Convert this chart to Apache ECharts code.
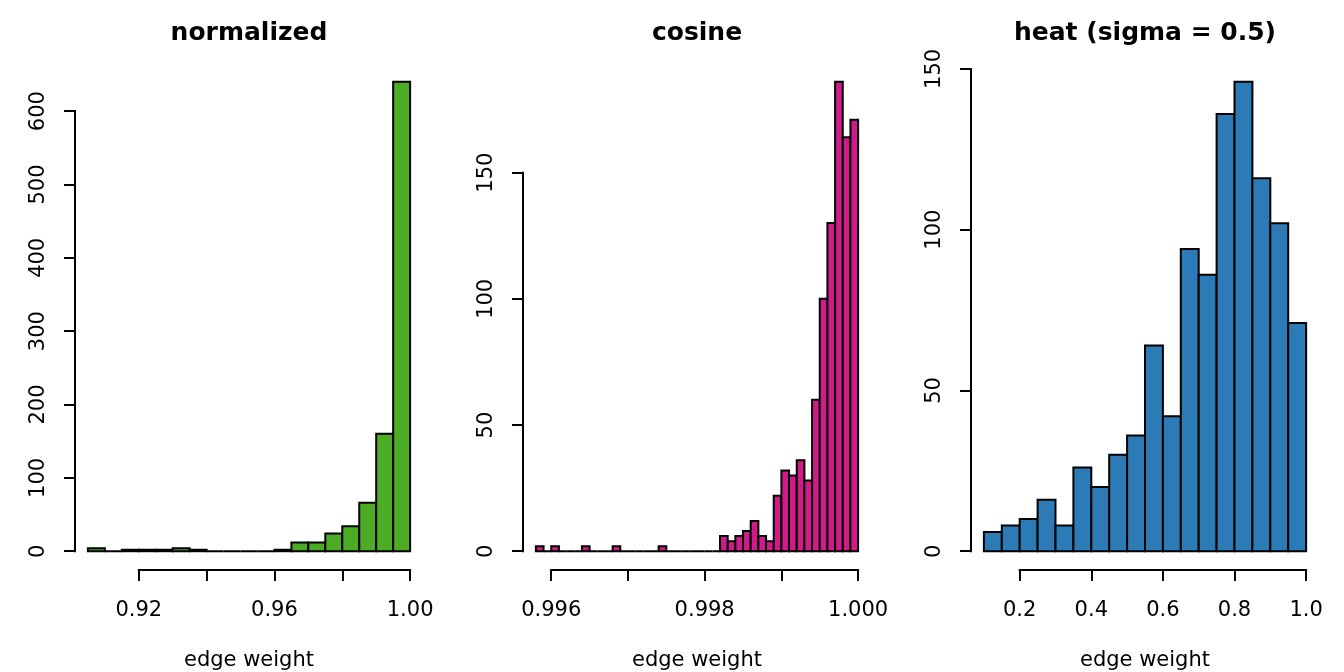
<!DOCTYPE html>
<html>
<head>
<meta charset="utf-8">
<script src="https://cdn.jsdelivr.net/npm/echarts@6/dist/echarts.min.js"></script>
<style>
html,body{margin:0;padding:0;background:#fff;}
#chart{width:1344px;height:672px;}
</style>
</head>
<body>
<div id="chart"></div>
<script>
// ---- data ----
const titles = ['normalized', 'cosine', 'heat (sigma = 0.5)'];
const xLabelName = 'edge weight';

const normBreaks = [0.905,0.910,0.915,0.920,0.925,0.930,0.935,0.940,0.945,0.950,0.955,0.960,0.965,0.970,0.975,0.980,0.985,0.990,0.995,1.000];
const normCounts = [4,0,2,2,2,4,2,0,0,0,0,2,12,12,24,34,66,160,640];

const cosBreaks = [0.9958,0.9959,0.9960,0.9961,0.9962,0.9963,0.9964,0.9965,0.9966,0.9967,0.9968,0.9969,0.9970,0.9971,0.9972,0.9973,0.9974,0.9975,0.9976,0.9977,0.9978,0.9979,0.9980,0.9981,0.9982,0.9983,0.9984,0.9985,0.9986,0.9987,0.9988,0.9989,0.9990,0.9991,0.9992,0.9993,0.9994,0.9995,0.9996,0.9997,0.9998,0.9999,1.0000];
const cosCounts = [2,0,2,0,0,0,2,0,0,0,2,0,0,0,0,0,2,0,0,0,0,0,0,0,6,4,6,8,12,6,4,22,32,30,36,28,60,100,130,186,164,171];

const heatBreaks = [0.10,0.15,0.20,0.25,0.30,0.35,0.40,0.45,0.50,0.55,0.60,0.65,0.70,0.75,0.80,0.85,0.90,0.95,1.00];
const heatCounts = [6,8,10,16,8,26,20,30,36,64,42,94,86,136,146,116,102,71];

const normXTicks = [0.92,0.94,0.96,0.98,1.00];
const normXLabels = [0.92,0.96,1.00];
const normYTicks = [0,100,200,300,400,500,600];

const cosXTicks = [0.996,0.997,0.998,0.999,1.000];
const cosXLabels = [0.996,0.998,1.000];
const cosYTicks = [0,50,100,150];

const heatXTicks = [0.2,0.4,0.6,0.8,1.0];
const heatXLabels = [0.2,0.4,0.6,0.8,1.0];
const heatYTicks = [0,50,100,150];

const colors = ['#4DAC26', '#D01C8B', '#2C7BB6'];
const decimals = [2, 3, 1];

// ---- build ----
const panels = [
  {breaks: normBreaks, counts: normCounts, xt: normXTicks, xl: normXLabels, yt: normYTicks},
  {breaks: cosBreaks, counts: cosCounts, xt: cosXTicks, xl: cosXLabels, yt: cosYTicks},
  {breaks: heatBreaks, counts: heatCounts, xt: heatXTicks, xl: heatXLabels, yt: heatYTicks}
];

const FONT = 'DejaVu Sans';
const PW = 448, GL = 75, GT = 63, GW = 348, GH = 507;

const grid = [], xAxis = [], yAxis = [], series = [], title = [];

panels.forEach((p, i) => {
  const b0 = p.breaks[0], b1 = p.breaks[p.breaks.length - 1];
  const xr = b1 - b0;
  const xmin = b0 - 0.04 * xr, xmax = b1 + 0.04 * xr;
  const cmax = Math.max(...p.counts);
  const ymin = -0.04 * cmax, ymax = 1.04 * cmax;
  const dec = decimals[i];

  grid.push({left: GL + i * PW, top: GT, width: GW, height: GH, containLabel: false, outerBoundsMode: 'none'});
  title.push({
    text: titles[i],
    left: GL + i * PW + GW / 2 - 5,
    top: 16,
    textAlign: 'center',
    textStyle: {fontFamily: FONT, fontSize: 25, fontWeight: 'bold', color: '#000'}
  });
  xAxis.push({
    type: 'value', gridIndex: i, min: xmin, max: xmax,
    axisLine: {show: false, onZero: false},
    splitLine: {show: false},
    axisTick: {show: true, length: 11, inside: false, customValues: p.xt, lineStyle: {color: '#000', width: 2}},
    axisLabel: {show: true, customValues: p.xl, margin: 30, fontFamily: FONT, fontSize: 21, color: '#000',
      formatter: v => Number(v).toFixed(dec)},
    name: xLabelName, nameLocation: 'middle', nameGap: 80,
    nameTextStyle: {fontFamily: FONT, fontSize: 21, color: '#000'}
  });
  yAxis.push({
    type: 'value', gridIndex: i, min: ymin, max: ymax,
    axisLine: {show: false, onZero: false},
    splitLine: {show: false},
    axisTick: {show: true, length: 11, inside: false, customValues: p.yt, lineStyle: {color: '#000', width: 2}},
    axisLabel: {show: true, customValues: p.yt, rotate: 90, margin: 26, fontFamily: FONT, fontSize: 21, color: '#000'}
  });

  const barData = p.counts.map((c, k) => [p.breaks[k], p.breaks[k + 1], c]);
  series.push({
    type: 'custom', xAxisIndex: i, yAxisIndex: i, clip: false, silent: true,
    data: barData,
    encode: {x: [0, 1], y: 2},
    renderItem: (params, api) => {
      const a = api.coord([api.value(0), 0]);
      const c = api.coord([api.value(1), api.value(2)]);
      return {
        type: 'rect',
        shape: {x: a[0], y: c[1], width: c[0] - a[0], height: a[1] - c[1]},
        style: {fill: colors[i], stroke: '#000', lineWidth: 2}
      };
    }
  });

  // axis lines (span first to last tick, R style)
  const axisLines = [
    [p.xt[0], ymin, p.xt[p.xt.length - 1], ymin],
    [xmin, p.yt[0], xmin, p.yt[p.yt.length - 1]]
  ];
  series.push({
    type: 'custom', xAxisIndex: i, yAxisIndex: i, clip: false, silent: true,
    data: axisLines,
    encode: {x: [0, 2], y: [1, 3]},
    renderItem: (params, api) => {
      const s = api.coord([api.value(0), api.value(1)]);
      const e = api.coord([api.value(2), api.value(3)]);
      return {
        type: 'line',
        shape: {x1: s[0], y1: s[1], x2: e[0], y2: e[1]},
        style: {stroke: '#000', lineWidth: 2, lineCap: 'square'}
      };
    }
  });
});

const chart = echarts.init(document.getElementById('chart'), null, {renderer: 'canvas'});
chart.setOption({
  backgroundColor: '#fff',
  animation: false,
  title, grid, xAxis, yAxis, series
});
</script>
</body>
</html>
